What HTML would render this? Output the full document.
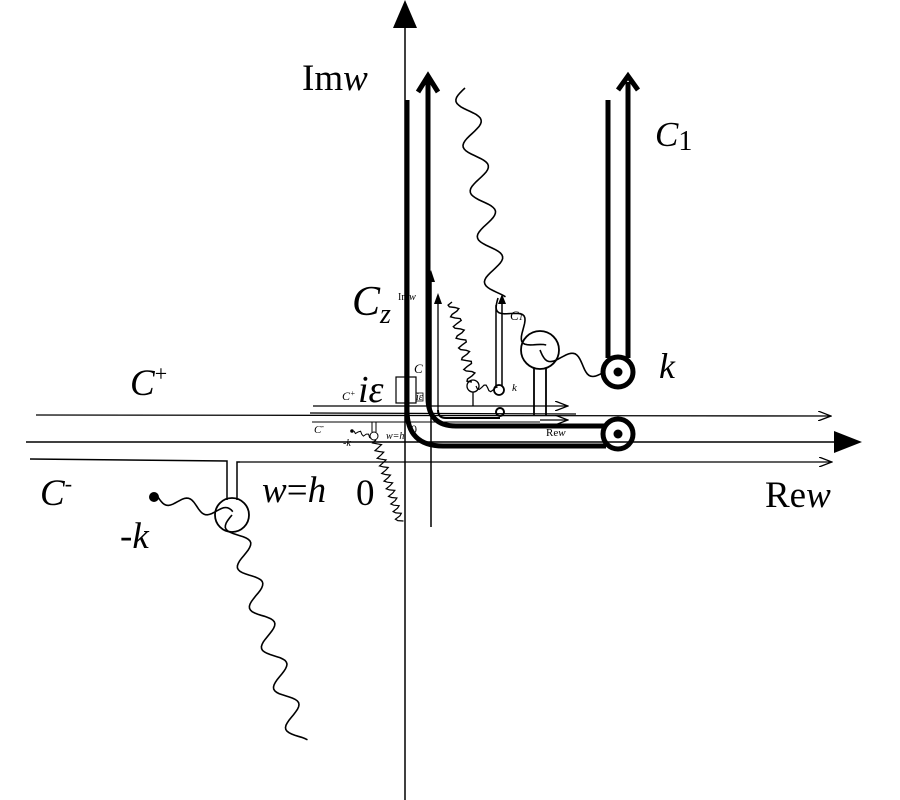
<!DOCTYPE html>
<html><head><meta charset="utf-8"><style>
body{margin:0;background:#fff}
svg{display:block}
text{font-family:"Liberation Serif",serif;fill:#000}
</style></head><body>
<svg id="s" width="900" height="800" viewBox="0 0 900 800" xmlns="http://www.w3.org/2000/svg">
<defs>
<marker id="open" markerWidth="14" markerHeight="10" refX="13" refY="5" orient="auto" markerUnits="userSpaceOnUse"><path d="M0,0 L13,5 L0,10" fill="none" stroke="#000" stroke-width="1.3"/></marker>
</defs>
<g fill="none" stroke="#000">
<line x1="405" y1="25" x2="405" y2="800" stroke-width="1.5"/>
<path d="M405,0 L393,28 L417,28 Z" fill="#000" stroke="none"/>
<line x1="26" y1="442" x2="840" y2="442" stroke-width="1.5"/>
<path d="M862,442 L834,431 L834,453 Z" fill="#000" stroke="none"/>
<line x1="36" y1="415" x2="831" y2="416" stroke-width="1.3" marker-end="url(#open)"/>
<line x1="240" y1="462" x2="832" y2="462" stroke-width="1.3" marker-end="url(#open)"/>
<path d="M30,459 L227,461 L227,500" stroke-width="1.5"/>
<path d="M237,500 L237,462 L240,462" stroke-width="1.5"/>
<circle cx="232" cy="515" r="17" stroke-width="1.8"/>
<path d="M407,100 L407,410 Q407,446 443,446 L606,446" stroke-width="5"/>
<path d="M428,85 L428,398 Q428,426 456,426 L606,426" stroke-width="5"/>
<circle cx="618" cy="434" r="15" stroke-width="5"/>
<circle cx="618" cy="434" r="4.5" fill="#000" stroke="none"/>
<path d="M428,92 L428,75" stroke-width="5"/>
<path d="M418,92 L428,76 L438,92" stroke-width="5"/>
<path d="M608,100 L608,358" stroke-width="5"/>
<path d="M628,358 L628,82" stroke-width="5"/>
<path d="M618,90 L628,76 L638,90" stroke-width="5"/>
<circle cx="618" cy="372" r="15" stroke-width="5"/>
<circle cx="618" cy="372" r="4.5" fill="#000" stroke="none"/>
<circle cx="540" cy="350" r="19" stroke-width="1.8"/>
<path d="M534,368 L534,415 M546,368 L546,416" stroke-width="1.8"/>
<line x1="431" y1="278" x2="431" y2="527" stroke-width="1.5"/>
<path d="M431,270 L427,282 L435,282 Z" fill="#000" stroke="none"/>
<line x1="438" y1="300" x2="438" y2="410" stroke-width="1.3"/>
<path d="M438,293 L434,304 L442,304 Z" fill="#000" stroke="none"/>
<path d="M438,410 Q438,418 446,418 L500,418" stroke-width="2"/>
<circle cx="500" cy="412" r="4" stroke-width="2"/>
<line x1="496" y1="305" x2="496" y2="386" stroke-width="1.5"/>
<line x1="502" y1="300" x2="502" y2="386" stroke-width="1.5"/>
<path d="M502,294 L498,304 L506,304 Z" fill="#000" stroke="none"/>
<circle cx="499" cy="390" r="5" stroke-width="1.8"/>
<circle cx="473" cy="386" r="6" stroke-width="1.3"/>
<line x1="473" y1="392" x2="473" y2="406" stroke-width="1.3"/>
<line x1="313" y1="406" x2="568" y2="406" stroke-width="1.2" marker-end="url(#open)"/>
<line x1="310" y1="413" x2="576" y2="414" stroke-width="1.3"/>
<line x1="540" y1="420" x2="568" y2="420" stroke-width="1.2" marker-end="url(#open)"/>
<line x1="312" y1="422" x2="540" y2="422" stroke-width="1.1"/>
<path d="M372,422 L372,432 M376,422 L376,432" stroke-width="1"/>
<circle cx="374" cy="436" r="4" stroke-width="1"/>
<rect x="396" y="377" width="20" height="26" stroke-width="1.2"/>
<rect x="416" y="393" width="7" height="8" stroke-width="0.8"/>
<circle cx="352" cy="431" r="1.8" fill="#000" stroke="none"/>
<g id="waves" stroke-width="1.6"></g>
</g>
<circle cx="154" cy="497" r="5" fill="#000"/>
<text x="302" y="90" font-size="37">Im<tspan font-style="italic">w</tspan></text>
<text x="655" y="146" font-size="35" font-style="italic">C<tspan font-style="normal" font-size="28" dy="4">1</tspan></text>
<text x="352" y="315" font-size="42" font-style="italic">C<tspan font-size="28" dy="8">z</tspan></text>
<text x="398" y="300" font-size="10">Im<tspan font-style="italic">w</tspan></text>
<text x="510" y="320" font-size="13" font-style="italic">C<tspan font-size="9">1</tspan></text>
<text x="414" y="373" font-size="13" font-style="italic">C</text>
<text x="130" y="395" font-size="37" font-style="italic">C<tspan font-style="normal" font-size="22" dy="-14">+</tspan></text>
<text x="342" y="400" font-size="12" font-style="italic">C<tspan font-size="8" dy="-4">+</tspan></text>
<text x="358" y="402" font-size="38" font-style="italic">iε</text>
<text x="416" y="400" font-size="10" font-style="italic">iε</text>
<text x="659" y="378" font-size="36" font-style="italic">k</text>
<text x="512" y="391" font-size="11" font-style="italic">k</text>
<text x="546" y="436" font-size="11">Re<tspan font-style="italic">w</tspan></text>
<text x="314" y="433" font-size="11" font-style="italic">C<tspan font-size="8" dy="-4">-</tspan></text>
<text x="343" y="446" font-size="10" font-style="italic">-k</text>
<text x="386" y="439" font-size="10" font-style="italic">w=h</text>
<text x="411" y="433" font-size="12">0</text>
<text x="40" y="505" font-size="37" font-style="italic">C<tspan font-style="normal" font-size="22" dy="-14">-</tspan></text>
<text x="120" y="548" font-size="37" font-style="italic">-k</text>
<text x="262" y="502" font-size="37" font-style="italic">w<tspan font-style="normal">=</tspan>h</text>
<text x="356" y="505" font-size="37">0</text>
<text x="765" y="507" font-size="37">Re<tspan font-style="italic">w</tspan></text>
</svg>
<script>
function wv(x1,y1,x2,y2,amp,wl){
 var dx=x2-x1,dy=y2-y1,L=Math.hypot(dx,dy),ux=dx/L,uy=dy/L,nx=-uy,ny=ux,d="";
 var n=Math.max(2,Math.round(L/2));
 for(var i=0;i<=n;i++){var t=i/n*L,o=amp*Math.sin(2*Math.PI*t/wl);
  var x=x1+ux*t+nx*o,y=y1+uy*t+ny*o;d+=(i?"L":"M")+x.toFixed(1)+","+y.toFixed(1);}
 return d;}
var g=document.getElementById("waves"),segs=[
 [465,88,498,298,11,46,1.6],
 [498,298,540,350,9,40,1.6],
 [540,350,603,372,8,45,1.6],
 [158,497,232,515,6,40,1.6],
 [232,515,300,742,10,42,1.6],
 [452,302,472,382,5,11,1.4],
 [476,386,497,390,3,12,1.2],
 [376,440,400,522,4,8,1.2],
 [354,431,372,437,2,8,1]
];
segs.forEach(function(s){var p=document.createElementNS("http://www.w3.org/2000/svg","path");
 p.setAttribute("d",wv(s[0],s[1],s[2],s[3],s[4],s[5]));p.setAttribute("stroke-width",s[6]);g.appendChild(p);});
</script>
</body></html>
